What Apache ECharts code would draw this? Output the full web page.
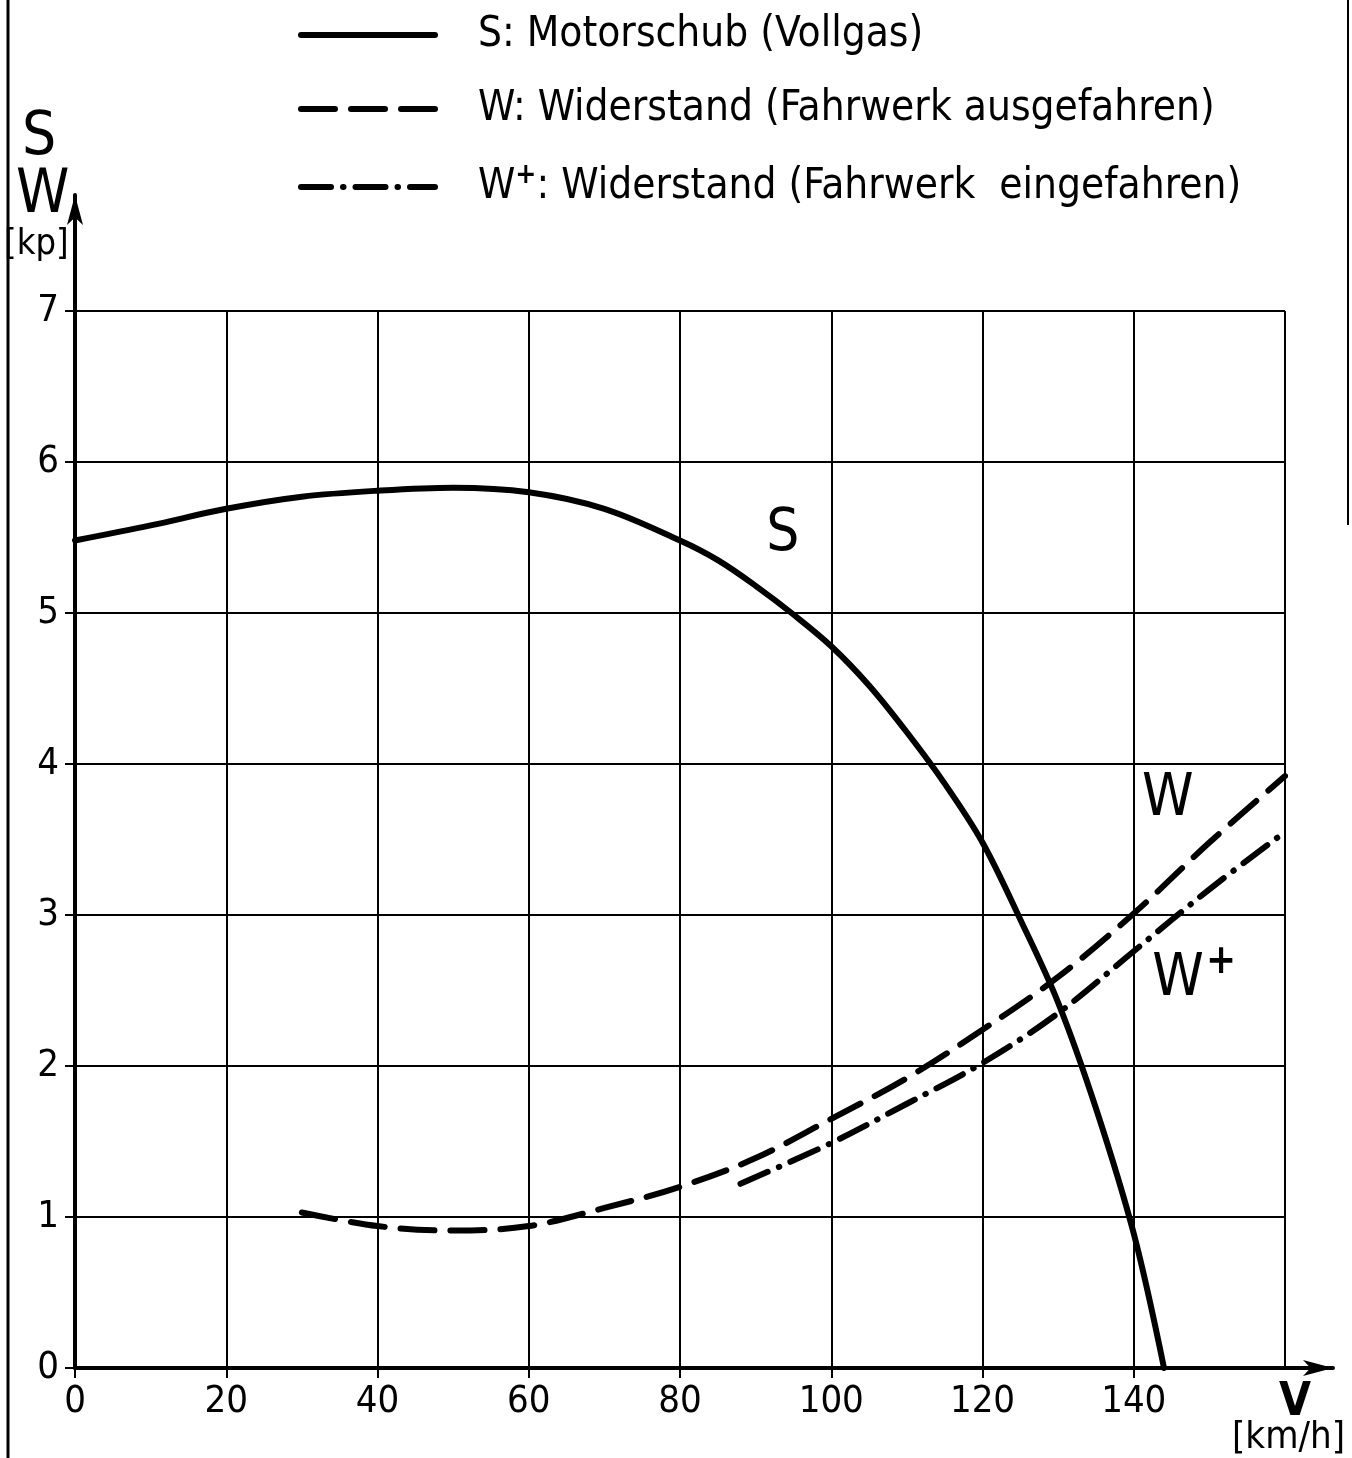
<!DOCTYPE html>
<html>
<head>
<meta charset="utf-8">
<script src="https://cdn.jsdelivr.net/npm/echarts@6/dist/echarts.min.js"></script>
<style>
  html, body { margin: 0; padding: 0; background: #fff; }
  #chart { width: 1352px; height: 1458px; }
</style>
</head>
<body>
<div id="chart"></div>
<script>
// Thrust at full throttle, S [kp] over airspeed V [km/h]
const speedS  = [0, 10, 20, 30, 40, 50, 60, 70, 80, 85, 90, 95, 100, 105, 110, 115, 120, 125, 130, 135, 140, 144];
const thrustS = [5.48, 5.58, 5.69, 5.77, 5.81, 5.83, 5.80, 5.69, 5.48, 5.35, 5.18, 4.99, 4.78, 4.52, 4.21, 3.87, 3.48, 2.97, 2.42, 1.72, 0.89, 0];

// Drag with landing gear extended, W [kp]
const speedW = [30, 40, 50, 60, 70, 80, 90, 100, 110, 120, 130, 140, 150, 160];
const dragW  = [1.03, 0.94, 0.91, 0.94, 1.06, 1.20, 1.39, 1.65, 1.92, 2.24, 2.59, 3.01, 3.48, 3.92];

// Drag with landing gear retracted, W+ [kp]
const speedWp = [88, 100, 110, 120, 130, 140, 150, 160];
const dragWp  = [1.22, 1.49, 1.75, 2.02, 2.35, 2.76, 3.17, 3.55];

// Curve names shown in the key
const nameS  = 'S: Motorschub (Vollgas)';
const nameW  = 'W: Widerstand (Fahrwerk ausgefahren)';
const nameWp = 'W+: Widerstand (Fahrwerk eingefahren)';

// Where the curve letters sit, in data coordinates
const tagS  = [93.6, 5.52];
const tagW  = [144.5, 3.76];
const tagWp = [148, 2.57];

const FONT = "'DejaVu Sans Condensed', 'DejaVu Sans', sans-serif";
const INK = '#000';

const pairs = (xs, ys) => xs.map((x, i) => [x, ys[i]]);

const dashW  = [34, 16];
const dashWp = [30, 12, 0.5, 12];

function curveTag(coord, text, size) {
  return {
    symbol: 'circle',
    symbolSize: 1,
    itemStyle: { color: 'rgba(0,0,0,0)' },
    label: {
      show: true,
      position: 'inside',
      formatter: text,
      color: INK,
      fontFamily: FONT,
      fontSize: size,
      rich: {
        b: { fontFamily: FONT, fontSize: size, color: INK },
        sup: { fontFamily: FONT, fontSize: 40, fontWeight: 'bold', color: INK, padding: [0, 0, 34, 2] }
      }
    },
    data: [{ coord: coord }]
  };
}

const chart = echarts.init(document.getElementById('chart'), null, { renderer: 'canvas' });

chart.setOption({
  animation: false,
  backgroundColor: '#fff',
  grid: [
    { left: 75, right: 67, top: 311, bottom: 90, containLabel: false },
    // frame carrying the long arrowed axes
    { left: 75, right: 19, top: 195, bottom: 90, containLabel: false }
  ],
  legend: {
    orient: 'vertical',
    left: 298,
    top: 14,
    padding: 0,
    itemWidth: 134,
    itemHeight: 14,
    itemGap: 32,
    selectedMode: false,
    data: [nameS, nameW, nameWp],
    lineStyle: { width: 6 },
    itemStyle: { opacity: 0 },
    formatter: function (n) {
      if (n === nameWp) {
        return '{b|W}{sup|+}{b|: Widerstand (Fahrwerk  eingefahren)}';
      }
      return '{b|' + n + '}';
    },
    textStyle: {
      color: INK,
      fontFamily: FONT,
      fontSize: 42,
      padding: [0, 0, 0, 38],
      rich: {
        b: { fontFamily: FONT, fontSize: 42, color: INK },
        sup: { fontFamily: FONT, fontSize: 28, fontWeight: 'bold', color: INK, padding: [0, 0, 22, 0] }
      }
    }
  },
  xAxis: [
    {
      type: 'value', gridIndex: 0, min: 0, max: 160, interval: 20,
      axisLine: { show: false },
      axisTick: { show: true, length: 10, lineStyle: { color: INK, width: 2 } },
      axisLabel: { color: INK, fontFamily: FONT, fontSize: 38, margin: 15, showMaxLabel: false },
      splitLine: { show: true, lineStyle: { color: INK, width: 2 } }
    },
    {
      type: 'value', gridIndex: 1, min: 0, max: 1,
      axisLine: {
        show: true, onZero: false,
        symbol: ['none', 'arrow'], symbolSize: [12, 30],
        lineStyle: { color: INK, width: 4 }
      },
      axisTick: { show: false }, axisLabel: { show: false }, splitLine: { show: false }
    }
  ],
  yAxis: [
    {
      type: 'value', gridIndex: 0, min: 0, max: 7, interval: 1,
      axisLine: { show: false },
      axisTick: { show: true, length: 10, lineStyle: { color: INK, width: 2 } },
      axisLabel: { color: INK, fontFamily: FONT, fontSize: 38, margin: 16 },
      splitLine: { show: true, lineStyle: { color: INK, width: 2 } }
    },
    {
      type: 'value', gridIndex: 1, min: 0, max: 1,
      axisLine: {
        show: true, onZero: false,
        symbol: ['none', 'arrow'], symbolSize: [12, 30],
        lineStyle: { color: INK, width: 4 }
      },
      axisTick: { show: false }, axisLabel: { show: false }, splitLine: { show: false }
    }
  ],
  series: [
    {
      name: nameS, type: 'line', xAxisIndex: 0, yAxisIndex: 0,
      data: pairs(speedS, thrustS),
      smooth: 0.35, symbol: 'none',
      lineStyle: { color: INK, width: 6, cap: 'round', join: 'round' },
      itemStyle: { color: INK },
      markPoint: curveTag(tagS, '{b|S}', 58)
    },
    {
      name: nameW, type: 'line', xAxisIndex: 0, yAxisIndex: 0,
      data: pairs(speedW, dragW),
      smooth: 0.35, symbol: 'none',
      lineStyle: { color: INK, width: 6, type: dashW, cap: 'round', join: 'round' },
      itemStyle: { color: INK },
      markPoint: curveTag(tagW, '{b|W}', 58)
    },
    {
      name: nameWp, type: 'line', xAxisIndex: 0, yAxisIndex: 0,
      data: pairs(speedWp, dragWp),
      smooth: 0.35, symbol: 'none',
      lineStyle: { color: INK, width: 6, type: dashWp, cap: 'round', join: 'round' },
      itemStyle: { color: INK },
      markPoint: curveTag(tagWp, '{b|W}{sup|+}', 58)
    }
  ],
  graphic: [
    // axis titles
    { type: 'text', left: 22, top: 108, style: { text: 'S', fill: INK, font: '60px ' + FONT } },
    { type: 'text', left: 16, top: 166, style: { text: 'W', fill: INK, font: '60px ' + FONT } },
    { type: 'text', left: 4, top: 227, style: { text: '[kp]', fill: INK, font: '36px ' + FONT } },
    { type: 'text', left: 1279, top: 1380, style: { text: 'V', fill: INK, font: 'bold 46px ' + FONT } },
    { type: 'text', left: 1232, top: 1419, style: { text: '[km/h]', fill: INK, font: '38px ' + FONT } },
    // sheet edges
    { type: 'line', shape: { x1: 8, y1: 0, x2: 8, y2: 1458 }, style: { stroke: INK, lineWidth: 3 } },
    { type: 'line', shape: { x1: 1348, y1: 0, x2: 1348, y2: 525 }, style: { stroke: INK, lineWidth: 2 } }
  ]
});
</script>
</body>
</html>
